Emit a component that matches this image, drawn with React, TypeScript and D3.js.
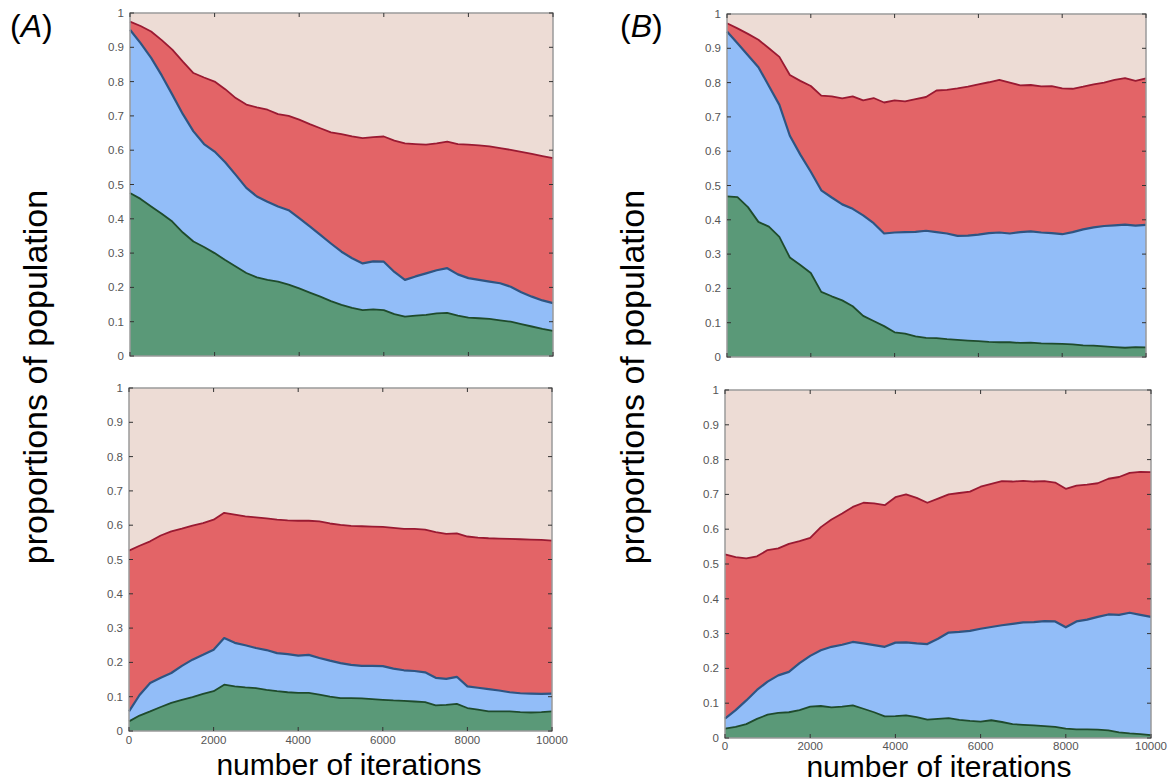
import * as d3 from "d3";
import React from "react";

// iteration grid (x) shared by all four panels
const iterations = d3.range(0, 10001, 250);
const xTicks = [0, 2000, 4000, 6000, 8000, 10000];
const yTicks = [0, 0.1, 0.2, 0.3, 0.4, 0.5, 0.6, 0.7, 0.8, 0.9, 1];

// cumulative boundaries: top of green, top of blue, top of red (beige fills the rest)
const aTopGreen = [0.475, 0.458, 0.436, 0.415, 0.392, 0.36, 0.334, 0.318, 0.3, 0.28, 0.261, 0.242, 0.229, 0.222, 0.217, 0.208, 0.197, 0.185, 0.173, 0.16, 0.149, 0.14, 0.134, 0.136, 0.134, 0.122, 0.115, 0.118, 0.12, 0.124, 0.126, 0.118, 0.112, 0.11, 0.108, 0.104, 0.1, 0.093, 0.086, 0.079, 0.073];
const aTopBlue = [0.951, 0.912, 0.869, 0.818, 0.762, 0.705, 0.655, 0.618, 0.596, 0.565, 0.528, 0.49, 0.465, 0.45, 0.436, 0.425, 0.402, 0.378, 0.353, 0.328, 0.304, 0.285, 0.27, 0.276, 0.275, 0.245, 0.222, 0.232, 0.241, 0.25, 0.256, 0.238, 0.227, 0.222, 0.217, 0.212, 0.202, 0.186, 0.173, 0.162, 0.154];
const aTopRed = [0.975, 0.962, 0.946, 0.921, 0.893, 0.858, 0.825, 0.812, 0.8, 0.778, 0.752, 0.733, 0.725, 0.718, 0.705, 0.7, 0.689, 0.676, 0.664, 0.652, 0.647, 0.64, 0.635, 0.638, 0.64, 0.628, 0.62, 0.618, 0.616, 0.62, 0.625, 0.618, 0.616, 0.614, 0.611, 0.606, 0.601, 0.595, 0.589, 0.583, 0.577];

const aBottomGreen = [0.028, 0.045, 0.057, 0.07, 0.082, 0.091, 0.099, 0.108, 0.116, 0.135, 0.13, 0.127, 0.125, 0.12, 0.116, 0.113, 0.111, 0.111, 0.106, 0.1, 0.096, 0.096, 0.095, 0.093, 0.091, 0.089, 0.088, 0.086, 0.084, 0.075, 0.076, 0.079, 0.067, 0.062, 0.057, 0.057, 0.057, 0.055, 0.054, 0.055, 0.057];
const aBottomBlue = [0.057, 0.105, 0.14, 0.155, 0.169, 0.19, 0.208, 0.222, 0.237, 0.271, 0.257, 0.25, 0.242, 0.236, 0.227, 0.224, 0.22, 0.222, 0.213, 0.205, 0.198, 0.193, 0.19, 0.19, 0.189, 0.182, 0.177, 0.175, 0.171, 0.155, 0.152, 0.158, 0.13, 0.126, 0.122, 0.118, 0.113, 0.11, 0.109, 0.108, 0.109];
const aBottomRed = [0.526, 0.54, 0.553, 0.57, 0.582, 0.59, 0.599, 0.606, 0.616, 0.636, 0.631, 0.626, 0.623, 0.62, 0.616, 0.614, 0.613, 0.613, 0.611, 0.605, 0.601, 0.598, 0.597, 0.596, 0.595, 0.592, 0.589, 0.589, 0.587, 0.58, 0.575, 0.576, 0.567, 0.564, 0.562, 0.561, 0.56, 0.559, 0.558, 0.557, 0.555];

const bTopGreen = [0.468, 0.466, 0.437, 0.394, 0.38, 0.35, 0.29, 0.268, 0.245, 0.19, 0.177, 0.165, 0.148, 0.12, 0.105, 0.09, 0.072, 0.068, 0.06, 0.056, 0.055, 0.052, 0.05, 0.048, 0.046, 0.044, 0.043, 0.043, 0.041, 0.042, 0.04, 0.039, 0.038, 0.037, 0.034, 0.033, 0.031, 0.029, 0.027, 0.029, 0.028];
const bTopBlue = [0.949, 0.915, 0.88, 0.845, 0.79, 0.735, 0.645, 0.59, 0.54, 0.486, 0.465, 0.445, 0.432, 0.413, 0.39, 0.36, 0.363, 0.364, 0.365, 0.368, 0.364, 0.36, 0.353, 0.354, 0.357, 0.361, 0.363, 0.36, 0.364, 0.366, 0.363, 0.361, 0.358, 0.364, 0.372, 0.378, 0.382, 0.384, 0.386, 0.383, 0.385];
const bTopRed = [0.973, 0.958, 0.942, 0.925, 0.9, 0.875, 0.822, 0.805, 0.79, 0.762, 0.76, 0.754, 0.76, 0.748, 0.755, 0.742, 0.748, 0.745, 0.752, 0.758, 0.777, 0.779, 0.783, 0.788, 0.795, 0.801, 0.808, 0.8, 0.792, 0.793, 0.789, 0.79, 0.783, 0.782, 0.788, 0.795, 0.8, 0.808, 0.813, 0.805, 0.812];

const bBottomGreen = [0.027, 0.032, 0.04, 0.055, 0.067, 0.072, 0.074, 0.08, 0.09, 0.092, 0.088, 0.09, 0.094, 0.084, 0.074, 0.062, 0.063, 0.065, 0.06, 0.053, 0.055, 0.057, 0.052, 0.049, 0.047, 0.051, 0.046, 0.04, 0.038, 0.036, 0.034, 0.032, 0.027, 0.025, 0.025, 0.024, 0.022, 0.016, 0.013, 0.011, 0.008];
const bBottomBlue = [0.056, 0.08, 0.108, 0.138, 0.162, 0.18, 0.19, 0.215, 0.236, 0.252, 0.262, 0.268, 0.276, 0.272, 0.267, 0.262, 0.274, 0.275, 0.272, 0.27, 0.285, 0.303, 0.305, 0.308, 0.314, 0.319, 0.324, 0.328, 0.332, 0.333, 0.336, 0.335, 0.318, 0.335, 0.34, 0.348, 0.355, 0.354, 0.36, 0.354, 0.348];
const bBottomRed = [0.528, 0.52, 0.516, 0.522, 0.54, 0.545, 0.558, 0.566, 0.575, 0.606, 0.628, 0.645, 0.664, 0.676, 0.674, 0.669, 0.692, 0.7, 0.69, 0.676, 0.688, 0.7, 0.704, 0.708, 0.722, 0.73, 0.738, 0.737, 0.739, 0.737, 0.738, 0.734, 0.716, 0.725, 0.728, 0.732, 0.745, 0.75, 0.762, 0.765, 0.764];

const colors = {
  beige: "#eddcd5",
  red: "#e36467",
  blue: "#92bdf8",
  green: "#5a9978",
  redLine: "#9a1a32",
  blueLine: "#2e5583",
  greenLine: "#1f4b2c",
};

const font = "'Liberation Sans', Arial, Helvetica, sans-serif";

function Panel({ x0, x1, y0, y1, green, blue, red, showX, xLabelY }) {
  const x = d3.scaleLinear().domain([0, 10000]).range([x0, x1]);
  const y = d3.scaleLinear().domain([0, 1]).range([y1, y0]);

  const band = (lo, hi) =>
    d3
      .area()
      .x((d, i) => x(iterations[i]))
      .y0((d, i) => y(lo ? lo[i] : 0))
      .y1((d, i) => y(hi[i]))(iterations);

  const line = (vals) =>
    d3
      .line()
      .x((d, i) => x(iterations[i]))
      .y((d, i) => y(vals[i]))(iterations);

  const tl = 4;
  return (
    <g>
      <rect x={x0} y={y0} width={x1 - x0} height={y1 - y0} fill={colors.beige} />
      <path d={band(blue, red)} fill={colors.red} />
      <path d={band(green, blue)} fill={colors.blue} />
      <path d={band(null, green)} fill={colors.green} />
      <path d={line(red)} fill="none" stroke={colors.redLine} strokeWidth={1.8} strokeLinejoin="round" />
      <path d={line(blue)} fill="none" stroke={colors.blueLine} strokeWidth={2.2} strokeLinejoin="round" />
      <path d={line(green)} fill="none" stroke={colors.greenLine} strokeWidth={1.8} strokeLinejoin="round" />
      <rect x={x0} y={y0} width={x1 - x0} height={y1 - y0} fill="none" stroke="#9a9a9a" strokeWidth={1.5} />
      {yTicks.map((t) => (
        <g key={"y" + t}>
          <line x1={x0} x2={x0 + tl} y1={y(t)} y2={y(t)} stroke="#333" strokeWidth={1} />
          <line x1={x1} x2={x1 - tl} y1={y(t)} y2={y(t)} stroke="#333" strokeWidth={1} />
          <text x={x0 - 6} y={y(t) + 4} textAnchor="end" fontSize={11.5} fill="#555" fontFamily={font}>
            {t}
          </text>
        </g>
      ))}
      {xTicks.map((t) => (
        <g key={"x" + t}>
          <line x1={x(t)} x2={x(t)} y1={y0} y2={y0 + tl} stroke="#333" strokeWidth={1} />
          <line x1={x(t)} x2={x(t)} y1={y1} y2={y1 - tl} stroke="#333" strokeWidth={1} />
          {showX && (
            <text x={x(t)} y={xLabelY} textAnchor="middle" fontSize={11.5} fill="#555" fontFamily={font}>
              {t}
            </text>
          )}
        </g>
      ))}
    </g>
  );
}

export default function App() {
  return (
    <svg
      width={1173}
      height={784}
      style={{ position: "absolute", left: 0, top: 0, background: "#fff" }}
    >
      <text x={10} y={37} fontSize={32} fontFamily={font}>
        (<tspan fontStyle="italic">A</tspan>)
      </text>
      <text x={620} y={37} fontSize={32} fontFamily={font}>
        (<tspan fontStyle="italic">B</tspan>)
      </text>

      <Panel x0={130} x1={553} y0={13} y1={356} green={aTopGreen} blue={aTopBlue} red={aTopRed} showX={false} />
      <Panel x0={129} x1={552} y0={388} y1={731} green={aBottomGreen} blue={aBottomBlue} red={aBottomRed} showX={true} xLabelY={744} />
      <Panel x0={727} x1={1146} y0={14} y1={357} green={bTopGreen} blue={bTopBlue} red={bTopRed} showX={false} />
      <Panel x0={725} x1={1151} y0={390} y1={738} green={bBottomGreen} blue={bBottomBlue} red={bBottomRed} showX={true} xLabelY={750} />

      <text transform="translate(47,377) rotate(-90)" textAnchor="middle" fontSize={34} fontFamily={font}>
        proportions of population
      </text>
      <text transform="translate(644,377) rotate(-90)" textAnchor="middle" fontSize={34} fontFamily={font}>
        proportions of population
      </text>
      <text x={349} y={775} textAnchor="middle" fontSize={30} fontFamily={font}>
        number of iterations
      </text>
      <text x={939} y={777} textAnchor="middle" fontSize={30} fontFamily={font}>
        number of iterations
      </text>
    </svg>
  );
}
